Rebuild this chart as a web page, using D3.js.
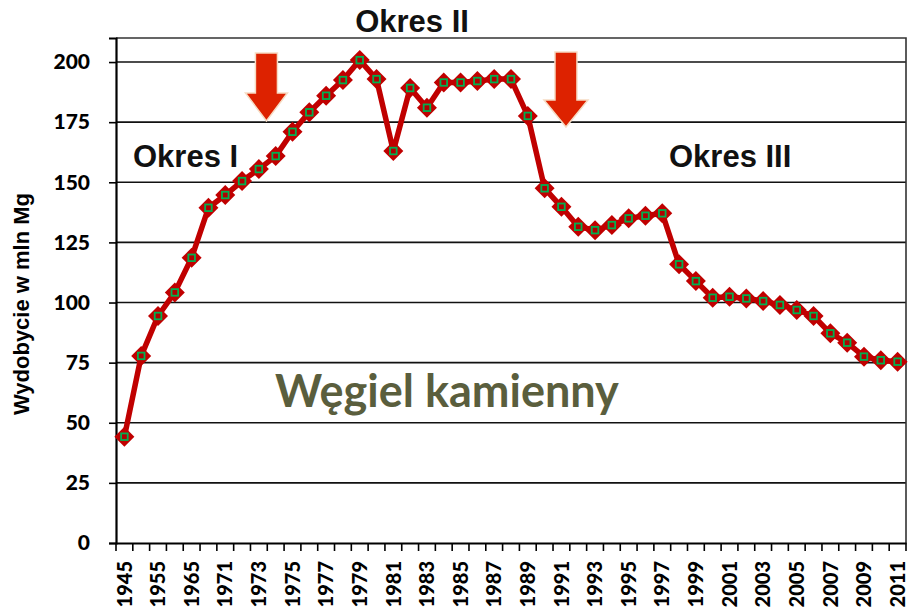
<!DOCTYPE html>
<html>
<head>
<meta charset="utf-8">
<script src="https://cdn.jsdelivr.net/npm/d3@7"></script>
<style>
  body { margin: 0; background: #fff; overflow: hidden; }
  svg { display: block; }
  .axis text { font-family: Lato, "Open Sans", sans-serif; font-weight: 900; font-size: 21px; fill: #000; }
  .axis path, .axis line { stroke: #000; }
</style>
</head>
<body>
<div id="chart"></div>
<script>

// categories (first six are 5-year steps, then yearly)
var years = ["1945", "1950", "1955", "1960", "1965", "1970",
  "1971", "1972", "1973", "1974", "1975", "1976", "1977", "1978", "1979", "1980",
  "1981", "1982", "1983", "1984", "1985", "1986", "1987", "1988", "1989", "1990",
  "1991", "1992", "1993", "1994", "1995", "1996", "1997", "1998", "1999", "2000",
  "2001", "2002", "2003", "2004", "2005", "2006", "2007", "2008", "2009", "2010", "2011"];

// hard coal output, mln Mg
var output = [44.2, 77.8, 94.4, 104.2, 118.6, 139.4,
  144.7, 150.5, 155.5, 160.9, 171.0, 179.1, 186.0, 192.5, 200.8, 192.9,
  163.0, 189.2, 181.0, 191.5, 191.5, 192.1, 192.9, 192.9, 177.6, 147.5,
  139.8, 131.5, 130.1, 132.2, 135.0, 136.1, 137.1, 115.9, 108.9, 102.0,
  102.4, 101.7, 100.6, 99.0, 96.9, 94.4, 87.2, 83.3, 77.5, 76.0, 75.4];

var yTicks = [0, 25, 50, 75, 100, 125, 150, 175, 200];
var periodLabels = ["Okres I", "Okres II", "Okres III"];
var arrowYears = ["1973", "1991"];
var chartLabel = "Węgiel kamienny";
var yTitle = "Wydobycie w mln Mg";

var margin = {top: 38, right: 2, bottom: 73, left: 116},
  width = 908,
  height = 616,
  innerWidth = width - margin.left - margin.right,
  innerHeight = height - margin.top - margin.bottom;

var data = years.map(function(d, i) { return {year: d, value: output[i]}; });

var xScale = d3.scaleBand().domain(years).range([0, innerWidth]);
var yScale = d3.scaleLinear().domain([0, 210]).range([innerHeight, 0]);

function X(d) { return xScale(d.year) + xScale.bandwidth() / 2; }
function Y(d) { return yScale(d.value); }

var svg = d3.select("#chart").append("svg")
  .attr("width", width)
  .attr("height", height);

var g = svg.append("g")
  .attr("transform", "translate(" + margin.left + "," + margin.top + ")");

// gridlines
g.append("g").selectAll("line")
  .data(yTicks.filter(function(d) { return d > 0; }))
  .enter().append("line")
    .attr("x1", 0)
    .attr("x2", innerWidth)
    .attr("y1", function(d) { return yScale(d); })
    .attr("y2", function(d) { return yScale(d); })
    .attr("stroke", "#111")
    .attr("stroke-width", 1.6);

// plot frame (top and right)
g.append("path")
  .attr("d", "M0,0H" + innerWidth + "V" + innerHeight)
  .attr("fill", "none")
  .attr("stroke", "#333")
  .attr("stroke-width", 1.6);

// y axis
var yAxis = g.append("g")
  .attr("class", "y axis")
  .call(d3.axisLeft(yScale).tickValues(yTicks).tickSize(7).tickPadding(19));
yAxis.select(".domain").attr("stroke-width", 2.2);
yAxis.selectAll(".tick line").attr("stroke-width", 1.6);

// x axis: labels every other category, ticks on band edges
var xAxis = g.append("g")
  .attr("class", "x axis")
  .attr("transform", "translate(0," + innerHeight + ")")
  .call(d3.axisBottom(xScale)
    .tickValues(years.filter(function(d, i) { return i % 2 === 0; }))
    .tickSize(0)
    .tickSizeOuter(0));
xAxis.select(".domain").attr("stroke-width", 2.2);
xAxis.selectAll("text")
  .attr("transform", "rotate(-90)")
  .attr("x", -18)
  .attr("y", 0)
  .attr("dy", "0.36em")
  .style("font-size", "20px")
  .style("text-anchor", "end");

xAxis.append("g").selectAll("line")
  .data(d3.range(years.length + 1))
  .enter().append("line")
    .attr("x1", function(i) { return i * xScale.step(); })
    .attr("x2", function(i) { return i * xScale.step(); })
    .attr("y1", 0)
    .attr("y2", 8)
    .attr("stroke", "#000")
    .attr("stroke-width", 1.6);

// y axis title
svg.append("text")
  .attr("transform", "translate(29,304) rotate(-90)")
  .style("text-anchor", "middle")
  .style("font-family", "'Liberation Sans', Arial, sans-serif")
  .style("font-weight", "bold")
  .style("font-size", "22px")
  .text(yTitle);

// the line
var line = d3.line().x(X).y(Y);
g.append("path")
  .datum(data)
  .attr("fill", "none")
  .attr("stroke", "#c00000")
  .attr("stroke-width", 5.5)
  .attr("stroke-linejoin", "round")
  .attr("d", line);

// markers
var marks = g.append("g").selectAll("g")
  .data(data)
  .enter().append("g")
    .attr("transform", function(d) { return "translate(" + X(d) + "," + Y(d) + ")"; });
marks.append("path")
  .attr("d", "M0,-10L10,0L0,10L-10,0Z")
  .attr("fill", "#c00000");
marks.append("rect")
  .attr("x", -3.3).attr("y", -3.3)
  .attr("width", 6.6).attr("height", 6.6)
  .attr("fill", "#b00000")
  .attr("stroke", "#00b050")
  .attr("stroke-width", 1.8);

// arrows marking period boundaries
var arrowShapes = [
  {shaft: 11, head: 21, neck: 40, tip: 68, top: 15, dx: 0.45},
  {shaft: 11, head: 22, neck: 48, tip: 75, top: 14, dx: 0.27}
];
g.append("g").selectAll("path")
  .data(arrowYears)
  .enter().append("path")
    .attr("transform", function(d, i) {
      var a = arrowShapes[i];
      var cx = xScale(d) + xScale.bandwidth() / 2 + a.dx * xScale.step();
      return "translate(" + cx + "," + a.top + ")";
    })
    .attr("d", function(d, i) {
      var a = arrowShapes[i];
      return "M" + (-a.shaft) + ",0H" + a.shaft + "V" + a.neck + "H" + a.head +
        "L0," + a.tip + "L" + (-a.head) + "," + a.neck + "H" + (-a.shaft) + "Z";
    })
    .attr("fill", "#dd2200")
    .attr("stroke", "#f6dcc4")
    .attr("stroke-width", 1.5);

// period labels
var labelPos = [[133, 167, "start"], [412, 32, "middle"], [669, 167, "start"]];
svg.append("g").selectAll("text")
  .data(periodLabels)
  .enter().append("text")
    .attr("x", function(d, i) { return labelPos[i][0]; })
    .attr("y", function(d, i) { return labelPos[i][1]; })
    .style("text-anchor", function(d, i) { return labelPos[i][2]; })
    .style("font-family", "'Liberation Sans', Arial, sans-serif")
    .style("font-weight", "bold")
    .style("font-size", "31px")
    .attr("fill", "#111")
    .text(function(d) { return d; });

svg.append("text")
  .attr("x", 275)
  .attr("y", 407)
  .style("font-family", "Lato, 'Open Sans', sans-serif")
  .style("font-weight", "bold")
  .style("font-size", "45px")
  .attr("fill", "#5a5e3d")
  .text(chartLabel);

</script>
</body>
</html>
